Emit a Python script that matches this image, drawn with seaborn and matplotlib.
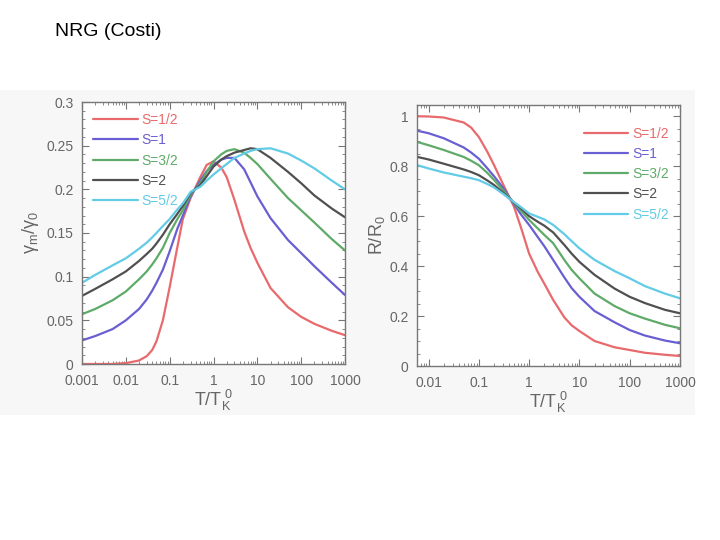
import numpy as np
import pandas as pd
import matplotlib
matplotlib.use('Agg')
import matplotlib.pyplot as plt
import seaborn as sns
from matplotlib.ticker import FixedLocator, MultipleLocator, LogLocator, NullFormatter
from matplotlib.patches import Rectangle

# Spin labels and colours
spins = ['S=1/2', 'S=1', 'S=3/2', 'S=2', 'S=5/2']
colors = ['#e86a6c', '#6a5fd2', '#5faa68', '#505050', '#62cbe6']

# Left panel: gamma_m / gamma_0 vs T/T_K^0
t_left = [0.001, 0.002, 0.005, 0.01, 0.02, 0.03, 0.04, 0.05, 0.07, 0.1, 0.15, 0.2, 0.3, 0.5,
          0.7, 1, 1.5, 2, 3, 5, 7, 10, 20, 50, 100, 200, 500, 1000]
g_half = [0.000, 0.000, 0.000, 0.001, 0.004, 0.009, 0.016, 0.026, 0.050, 0.088, 0.134, 0.166, 0.190, 0.214,
          0.228, 0.232, 0.225, 0.214, 0.188, 0.152, 0.133, 0.116, 0.087, 0.065, 0.054, 0.046, 0.038, 0.033]
g_one = [0.027, 0.032, 0.040, 0.050, 0.063, 0.074, 0.084, 0.093, 0.108, 0.129, 0.155, 0.170, 0.192, 0.210,
         0.221, 0.228, 0.234, 0.236, 0.236, 0.223, 0.208, 0.192, 0.167, 0.142, 0.127, 0.112, 0.093, 0.079]
g_three_half = [0.057, 0.063, 0.073, 0.083, 0.097, 0.106, 0.114, 0.121, 0.133, 0.150, 0.166, 0.176, 0.194, 0.207,
                0.220, 0.232, 0.240, 0.244, 0.246, 0.242, 0.236, 0.229, 0.212, 0.190, 0.176, 0.162, 0.143, 0.130]
g_two = [0.078, 0.086, 0.097, 0.106, 0.118, 0.126, 0.132, 0.138, 0.148, 0.160, 0.172, 0.181, 0.196, 0.205,
         0.215, 0.226, 0.234, 0.238, 0.242, 0.245, 0.247, 0.246, 0.236, 0.220, 0.207, 0.193, 0.178, 0.168]
g_five_half = [0.093, 0.102, 0.113, 0.121, 0.132, 0.139, 0.145, 0.150, 0.158, 0.166, 0.177, 0.184, 0.197, 0.203,
               0.210, 0.217, 0.224, 0.229, 0.236, 0.241, 0.244, 0.246, 0.247, 0.241, 0.233, 0.224, 0.210, 0.200]

# Right panel: R / R_0 vs T/T_K^0
t_right = [0.006, 0.01, 0.02, 0.05, 0.07, 0.1, 0.15, 0.2, 0.3, 0.5, 0.7, 1, 1.5, 2, 3, 5, 7,
           10, 20, 50, 100, 200, 500, 1000]
r_half = [1.000, 0.999, 0.995, 0.975, 0.955, 0.917, 0.855, 0.805, 0.730, 0.638, 0.550, 0.450, 0.375, 0.330, 0.265, 0.195, 0.163,
          0.140, 0.100, 0.075, 0.064, 0.053, 0.045, 0.040]
r_one = [0.942, 0.932, 0.912, 0.875, 0.855, 0.830, 0.790, 0.760, 0.715, 0.648, 0.605, 0.565, 0.515, 0.480, 0.425, 0.355, 0.312,
         0.277, 0.220, 0.175, 0.144, 0.122, 0.102, 0.091]
r_three_half = [0.897, 0.884, 0.865, 0.837, 0.822, 0.804, 0.772, 0.745, 0.705, 0.652, 0.620, 0.585, 0.550, 0.525, 0.492, 0.425, 0.385,
                0.351, 0.290, 0.240, 0.211, 0.190, 0.165, 0.151]
r_two = [0.837, 0.827, 0.810, 0.787, 0.777, 0.764, 0.742, 0.725, 0.695, 0.654, 0.630, 0.600, 0.577, 0.562, 0.535, 0.485, 0.450,
         0.417, 0.365, 0.310, 0.277, 0.252, 0.225, 0.211]
r_five_half = [0.804, 0.791, 0.775, 0.758, 0.752, 0.744, 0.728, 0.715, 0.690, 0.656, 0.635, 0.611, 0.597, 0.587, 0.565, 0.528, 0.500,
               0.471, 0.425, 0.380, 0.351, 0.320, 0.290, 0.271]

left_series = [g_half, g_one, g_three_half, g_two, g_five_half]
right_series = [r_half, r_one, r_three_half, r_two, r_five_half]

df_left = pd.concat([pd.DataFrame({'T': t_left, 'val': v, 'spin': s}) for s, v in zip(spins, left_series)])
df_right = pd.concat([pd.DataFrame({'T': t_right, 'val': v, 'spin': s}) for s, v in zip(spins, right_series)])

sns.set_theme(style='ticks')
plt.rcParams['font.family'] = ['Liberation Sans', 'DejaVu Sans']
plt.rcParams['mathtext.fontset'] = 'custom'
plt.rcParams['mathtext.rm'] = 'Liberation Sans'
plt.rcParams['mathtext.it'] = 'Liberation Sans'

fig = plt.figure(figsize=(7.2, 5.4), dpi=100)
fig.patches.append(Rectangle((0, 1 - 415 / 540), 695 / 720, 325 / 540, transform=fig.transFigure,
                             facecolor='#f7f7f7', edgecolor='none', zorder=-10))
fig.text(55 / 720, 1 - 32 / 540, 'NRG (Costi)', fontsize=14, color='black', va='center', ha='left')

ax1 = fig.add_axes([82 / 720, 1 - 364 / 540, 263 / 720, 262 / 540])
ax2 = fig.add_axes([417 / 720, 1 - 366 / 540, 263 / 720, 261 / 540])

palette = dict(zip(spins, colors))
sns.lineplot(data=df_left, x='T', y='val', hue='spin', hue_order=spins, palette=palette,
             linewidth=1.6, ax=ax1, legend=False)
sns.lineplot(data=df_right, x='T', y='val', hue='spin', hue_order=spins, palette=palette,
             linewidth=1.6, ax=ax2, legend=False)

gray = '#777777'
txt = '#666666'
handles = [plt.Line2D([], [], color=c, lw=1.6) for c in colors]
for ax in (ax1, ax2):
    ax.set_facecolor('white')
    ax.set_xscale('log')
    for sp in ax.spines.values():
        sp.set_color(gray)
        sp.set_linewidth(1.0)
    ax.tick_params(which='both', direction='in', top=True, right=True, color=gray,
                   labelcolor=txt, labelsize=10)
    ax.tick_params(which='major', length=5, width=0.8)
    ax.tick_params(which='minor', length=2.5, width=0.6)
    ax.tick_params(axis='x', which='major', pad=7)
    ax.tick_params(axis='y', which='major', pad=6)
    ax.xaxis.set_minor_locator(LogLocator(base=10, subs=np.arange(2, 10), numticks=20))
    ax.xaxis.set_minor_formatter(NullFormatter())
    ax.set_xlabel(r'$\mathregular{T/T_K^{\ 0}}$', fontsize=13, color=txt, labelpad=0)

ax1.set_xlim(0.001, 1000)
ax1.set_ylim(0, 0.3)
ax1.xaxis.set_major_locator(FixedLocator([0.001, 0.01, 0.1, 1, 10, 100, 1000]))
ax1.set_xticklabels(['0.001', '0.01', '0.1', '1', '10', '100', '1000'])
ax1.yaxis.set_major_locator(FixedLocator([0, 0.05, 0.1, 0.15, 0.2, 0.25, 0.3]))
ax1.yaxis.set_minor_locator(MultipleLocator(0.01))
ax1.set_yticklabels(['0', '0.05', '0.1', '0.15', '0.2', '0.25', '0.3'])
ax1.set_ylabel(r'$\mathregular{\gamma_m/\gamma_0}$', fontsize=13, color=txt, labelpad=4)
ax1.legend(handles, spins, loc='upper left', frameon=False, fontsize=10, labelcolor=colors,
           handlelength=3.2, handletextpad=0.3, labelspacing=0.45, borderaxespad=0.4)

ax2.set_xlim(0.0059, 1000)
ax2.set_ylim(0, 1.045)
ax2.xaxis.set_major_locator(FixedLocator([0.01, 0.1, 1, 10, 100, 1000]))
ax2.set_xticklabels(['0.01', '0.1', '1', '10', '100', '1000'])
ax2.yaxis.set_major_locator(FixedLocator([0, 0.2, 0.4, 0.6, 0.8, 1.0]))
ax2.yaxis.set_minor_locator(MultipleLocator(0.05))
ax2.set_yticklabels(['0', '0.2', '0.4', '0.6', '0.8', '1'])
ax2.set_ylabel(r'$\mathregular{R/R_0}$', fontsize=13, color=txt, labelpad=2)
ax2.legend(handles, spins, loc='upper right', bbox_to_anchor=(1.0, 0.96), frameon=False, fontsize=10,
           labelcolor=colors, handlelength=3.2, handletextpad=0.3, labelspacing=0.45, borderaxespad=0.4)

fig.savefig('out.png', dpi=100)
